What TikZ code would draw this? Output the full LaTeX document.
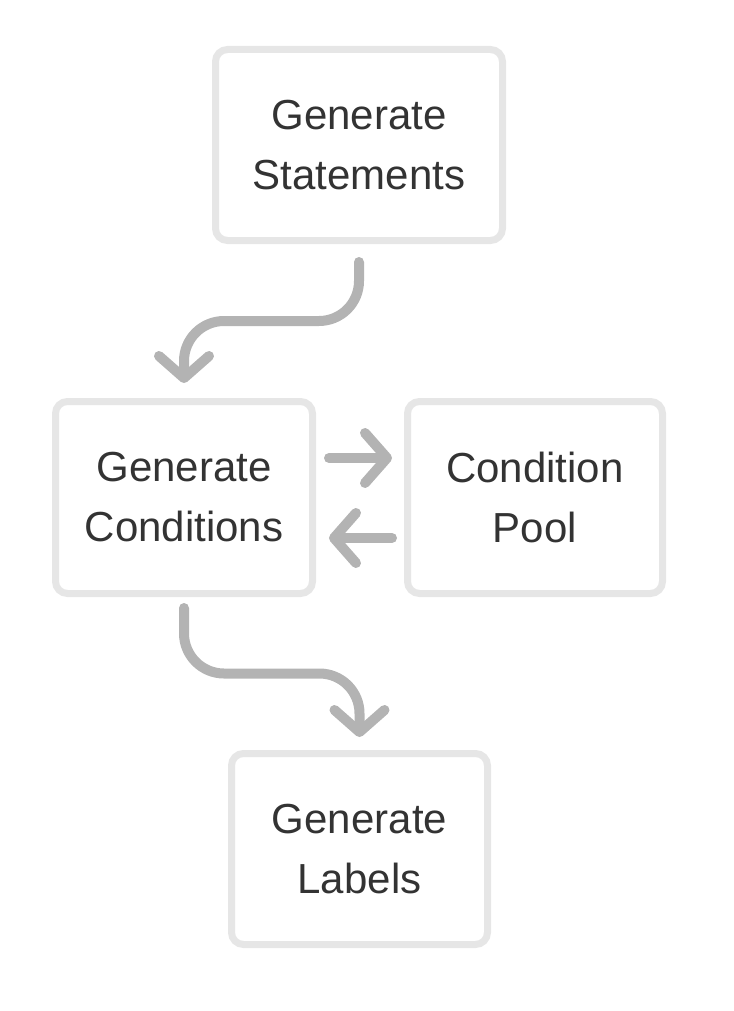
\documentclass[tikz,border=0pt]{standalone}
\usepackage{fontspec}
\setmainfont{Liberation Sans}
\usetikzlibrary{arrows.meta,calc}
\definecolor{boxgray}{HTML}{E6E6E6}
\definecolor{flowgray}{HTML}{B3B3B3}
\definecolor{textgray}{HTML}{333333}

\begin{document}
\begin{tikzpicture}[x=1pt, y=-1pt,
	box/.style = {draw=boxgray, line width=7pt, rounded corners=12pt, fill=white, text=textgray, align=center, font=\fontsize{42}{60}\selectfont},
	flow/.style = {draw=flowgray, line width=10pt, line cap=round, line join=round, -{Straight Barb[length=22pt, width=50pt, round]}}]
				\useasboundingbox (0,0) rectangle (733,1011);
				\node[box, minimum width=287pt, minimum height=191pt] (stmt) at (359,145) {Generate\\Statements};
				\node[box, minimum width=257pt, minimum height=192pt] (cond) at (184,497.5) {Generate\\Conditions};
				\node[box, minimum width=255pt, minimum height=192pt] (pool) at (535,497.5) {Condition\\Pool};
				\node[box, minimum width=256pt, minimum height=191pt] (labels) at (359.5,849) {Generate\\Labels};
				
				\draw[flow, rounded corners=40pt] ([yshift=-18pt]stmt.south) |- ($(stmt.south)!0.5!(cond.north)$) -| ([yshift=15pt]cond.north);
				\draw[flow] ([xshift=13pt, yshift=39.5pt]cond.east) -- ([xshift=-12pt, yshift=39.5pt]pool.west);
				\draw[flow] ([xshift=-12pt, yshift=-40.5pt]pool.west) -- ([xshift=13pt, yshift=-40.5pt]cond.east);
				\draw[flow, rounded corners=40pt] ([yshift=-11pt]cond.south) |- ($(cond.south)!0.5!(labels.north)$) -| ([yshift=13pt]labels.north);
				
				\end{tikzpicture}
\end{document}
